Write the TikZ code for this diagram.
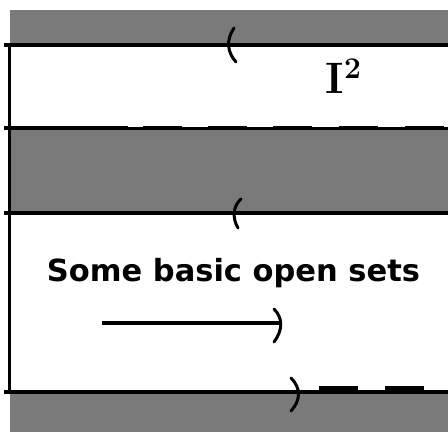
\documentclass[tikz,border=0pt]{standalone}
\usepackage{fontspec}
\newfontfamily\labelfont{DejaVu Sans}
\begin{document}
\begin{tikzpicture}[x=1pt,y=-1pt,
  hatch/.style={fill=black!52,draw=none},
  edge/.style={line width=4pt},
  paren/.style={line width=3pt,line cap=round}]
\useasboundingbox (0,0) rectangle (448,432);
\fill[white] (0,0) rectangle (448,432);
% hatched bands
\fill[hatch] (10,10) rectangle (448,44);
\fill[hatch] (10,130) rectangle (448,213);
\fill[hatch] (10,393) rectangle (448,432);
% left side
\draw[line width=3pt] (9.5,43) -- (9.5,394);
% horizontal edges
\coordinate (a1) at (4,45); \coordinate (a2) at (448,45);
\draw[edge] (a1) -- (a2);
\coordinate (b1) at (4,128.5); \coordinate (b2) at (448,128.5);
\draw[line width=3pt] (b1) -- (b2);
\foreach \x in {143,208,273,339,405} \fill (\x,125.5) rectangle (\x+39,129);
\fill (4,125.5) rectangle (128,129);
\coordinate (c1) at (4,213); \coordinate (c2) at (448,213);
\draw[edge] (c1) -- (c2);
\coordinate (d1) at (4,392); \coordinate (d2) at (448,392);
\draw[edge] (d1) -- (d2);
\foreach \x in {319,385} \fill (\x,386) rectangle (\x+39,391);
% end markers
\draw[paren] (234,28) .. controls (226,40) and (227,52) .. (236,62);
\draw[paren] (241,199) .. controls (233,206) and (232,218) .. (238,228);
\draw[paren] (291,378) .. controls (301,388) and (301,400) .. (291,411);
% arrow
\coordinate (e1) at (102,323); \coordinate (e2) at (280,323);
\draw[line width=4pt] (e1) -- (e2);
\draw[paren] (274,309) .. controls (283,318) and (283,330) .. (274,342);
% labels
\node[font=\bfseries\fontsize{44}{44}\selectfont,anchor=base west,inner sep=0] (i2) at (325,93) {I};
\node[font=\bfseries\fontsize{30}{30}\selectfont,anchor=base west,inner sep=0] (sup) at (344,78) {2};
\node[font=\labelfont\bfseries,inner sep=0] (title) at (233.5,273) {\resizebox{373pt}{!}{Some basic open sets}};
\end{tikzpicture}
\end{document}
